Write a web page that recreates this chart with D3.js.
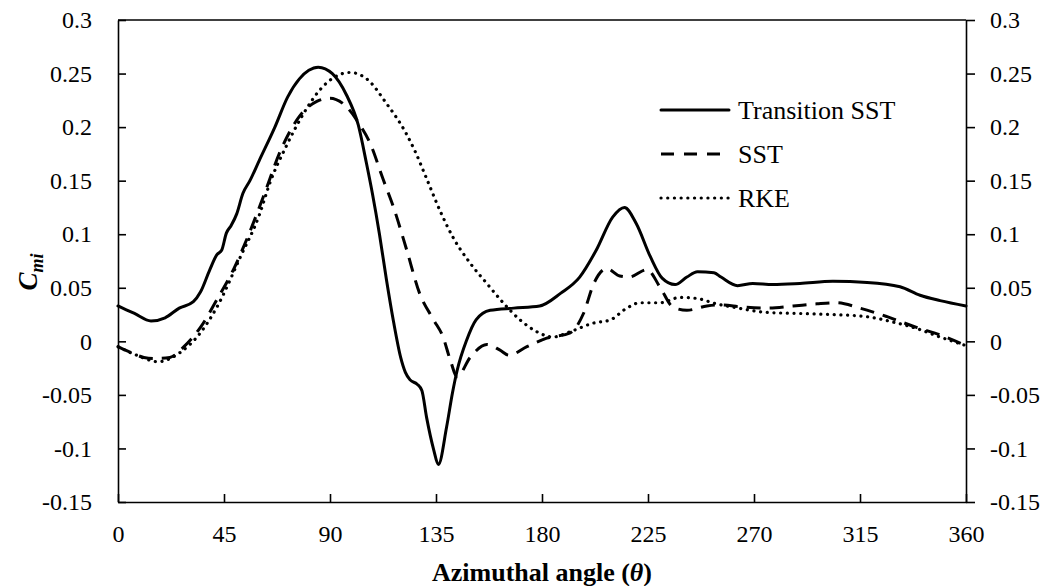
<!DOCTYPE html>
<html>
<head>
<meta charset="utf-8">
<script src="https://cdn.jsdelivr.net/npm/d3@7"></script>
<style>
  html, body { margin: 0; padding: 0; background: #fff; }
  svg { display: block; }
  svg text { font-family: "Liberation Serif", "Times New Roman", "DejaVu Serif", serif; }
</style>
</head>
<body>
<svg id="chart" width="1048" height="586"></svg>
<script>
// Azimuthal angle (deg) and moment coefficient for each turbulence model
const thetaTSST = [0, 7, 14, 20, 26, 32, 35, 39, 42, 44, 46, 48, 50.4, 53, 56, 60, 66.6, 72, 77, 81, 85, 91, 97, 102, 105.5, 108, 111, 114, 117, 120, 122, 124, 127, 129, 131, 134, 136, 139.5, 142, 144, 148, 152, 158, 168, 179, 188, 196, 203, 210, 215, 220, 226, 231, 236.5, 241.5, 246, 253, 256, 263, 269.5, 278, 289.5, 303.5, 318, 332, 340.5, 349, 360];
const cmiTSST   = [0.033, 0.026, 0.019, 0.022, 0.031, 0.037, 0.046, 0.067, 0.081, 0.085, 0.101, 0.108, 0.119, 0.138, 0.150, 0.169, 0.200, 0.228, 0.245, 0.253, 0.256, 0.250, 0.230, 0.202, 0.166, 0.138, 0.100, 0.057, 0.018, -0.015, -0.029, -0.036, -0.040, -0.046, -0.071, -0.101, -0.115, -0.080, -0.048, -0.027, 0.001, 0.020, 0.029, 0.031, 0.033, 0.045, 0.060, 0.085, 0.116, 0.125, 0.110, 0.079, 0.059, 0.053, 0.060, 0.065, 0.064, 0.060, 0.052, 0.054, 0.053, 0.054, 0.056, 0.055, 0.051, 0.043, 0.038, 0.033];

const thetaSST = [0, 6, 11, 16, 22, 28, 35, 42, 49, 55, 61.7, 69, 77, 84.4, 90, 95.5, 102.7, 107, 112.6, 117, 122.6, 128, 134, 138, 141, 144, 149.5, 156.6, 162, 166, 173.6, 182, 192, 197.6, 202, 207.5, 213, 217, 224.6, 230, 235.6, 241.5, 250, 255.6, 265, 275.5, 286.6, 296.7, 305, 315, 326.5, 339, 349, 360];
const cmiSST   = [-0.005, -0.011, -0.015, -0.016, -0.015, -0.005, 0.013, 0.039, 0.067, 0.097, 0.135, 0.178, 0.210, 0.224, 0.227, 0.222, 0.202, 0.185, 0.151, 0.125, 0.085, 0.045, 0.020, 0.004, -0.017, -0.033, -0.015, -0.003, -0.008, -0.013, -0.005, 0.003, 0.008, 0.026, 0.054, 0.068, 0.061, 0.060, 0.067, 0.051, 0.032, 0.029, 0.033, 0.034, 0.032, 0.031, 0.033, 0.035, 0.036, 0.031, 0.023, 0.013, 0.006, -0.004];

const thetaRKE = [0, 8, 17, 26, 35, 42, 52, 60, 64.5, 71.6, 78.6, 85.8, 91.4, 98.5, 105.6, 114, 122.6, 126, 131, 136.7, 142, 149.5, 156.6, 163.5, 170.7, 177.8, 184.7, 192, 201.8, 209, 216, 221.6, 230, 238.6, 245.8, 254, 261, 275.5, 289.5, 303.6, 318, 329, 339, 349, 360];
const cmiRKE   = [-0.005, -0.013, -0.019, -0.011, 0.008, 0.032, 0.079, 0.118, 0.148, 0.183, 0.212, 0.235, 0.246, 0.251, 0.245, 0.222, 0.193, 0.178, 0.152, 0.122, 0.098, 0.073, 0.054, 0.036, 0.020, 0.009, 0.004, 0.009, 0.017, 0.020, 0.031, 0.036, 0.036, 0.041, 0.040, 0.035, 0.032, 0.027, 0.026, 0.025, 0.023, 0.018, 0.012, 0.004, -0.004];

const seriesNames = ["Transition SST", "SST", "RKE"];
const xTicks = [0, 45, 90, 135, 180, 225, 270, 315, 360];
const yTicks = [-0.15, -0.1, -0.05, 0, 0.05, 0.1, 0.15, 0.2, 0.25, 0.3];

const serif = "'Liberation Serif', 'Times New Roman', 'DejaVu Serif', serif";

const svg = d3.select("#chart").attr("font-family", serif);
const plotL = 118, plotR = 966, plotT = 20, plotB = 502;

const x = d3.scaleLinear().domain([0, 360]).range([plotL, plotR]);
const y = d3.scaleLinear().domain([-0.15, 0.3]).range([plotB, plotT]);

const fmt = d => (Math.abs(d) < 1e-9 ? "0" : String(+d.toFixed(2)));

// frame top edge
svg.append("line")
  .attr("x1", plotL).attr("x2", plotR).attr("y1", plotT).attr("y2", plotT)
  .attr("stroke", "#000").attr("stroke-width", 1.6);

// left axis: inward ticks
const gL = svg.append("g").attr("transform", `translate(${plotL},0)`)
  .call(d3.axisLeft(y).tickValues(yTicks).tickFormat(fmt).tickSizeInner(-8).tickSizeOuter(0).tickPadding(26));
// right axis: outward ticks
const gR = svg.append("g").attr("transform", `translate(${plotR},0)`)
  .call(d3.axisRight(y).tickValues(yTicks).tickFormat(fmt).tickSizeInner(9).tickSizeOuter(0).tickPadding(15));
// bottom axis: inward ticks
const gB = svg.append("g").attr("transform", `translate(0,${plotB})`)
  .call(d3.axisBottom(x).tickValues(xTicks).tickFormat(d3.format("d")).tickSizeInner(-8).tickSizeOuter(0).tickPadding(23));

[gL, gR, gB].forEach(g => {
  g.attr("font-family", serif).attr("font-size", 24);
  g.select(".domain").attr("stroke", "#000").attr("stroke-width", 1.6);
  g.selectAll(".tick line").attr("stroke", "#000").attr("stroke-width", 1.6);
  g.selectAll(".tick text").attr("fill", "#000");
});

// series lines
const line = d3.line().x(d => x(d[0])).y(d => y(d[1])).curve(d3.curveMonotoneX);
const styles = [
  { dash: null, cap: "round" },
  { dash: "14,9", cap: "butt" },
  { dash: "0.1,6.6", cap: "round" }
];
const series = [
  d3.zip(thetaTSST, cmiTSST),
  d3.zip(thetaSST, cmiSST),
  d3.zip(thetaRKE, cmiRKE)
];

const plot = svg.append("g");
[2, 1, 0].forEach(i => {
  plot.append("path")
    .datum(series[i])
    .attr("d", line)
    .attr("fill", "none")
    .attr("stroke", "#000")
    .attr("stroke-width", i === 2 ? 3.2 : 3)
    .attr("stroke-linecap", styles[i].cap)
    .attr("stroke-linejoin", "round")
    .attr("stroke-dasharray", styles[i].dash);
});

// legend
const legend = svg.append("g");
seriesNames.forEach((name, i) => {
  const ly = 110 + i * 44;
  legend.append("line")
    .attr("x1", 661).attr("x2", 729).attr("y1", ly).attr("y2", ly)
    .attr("stroke", "#000")
    .attr("stroke-width", i === 2 ? 3.2 : 3)
    .attr("stroke-linecap", styles[i].cap)
    .attr("stroke-dasharray", i === 1 ? "13,10" : styles[i].dash);
  legend.append("text")
    .attr("x", 738).attr("y", ly).attr("dy", "0.33em")
    .attr("font-size", 26)
    .text(name);
});

// axis titles
const xt = svg.append("text")
  .attr("x", 542).attr("y", 581)
  .attr("text-anchor", "middle")
  .attr("font-size", 26).attr("font-weight", "bold");
xt.append("tspan").text("Azimuthal angle (");
xt.append("tspan").attr("font-style", "italic").text("θ");
xt.append("tspan").text(")");

const yt = svg.append("text")
  .attr("transform", "translate(37,272) rotate(-90)")
  .attr("text-anchor", "middle")
  .attr("font-size", 27).attr("font-weight", "bold").attr("font-style", "italic");
yt.append("tspan").text("C");
yt.append("tspan").attr("font-size", 18).attr("dy", 6).text("mi");
</script>
</body>
</html>
